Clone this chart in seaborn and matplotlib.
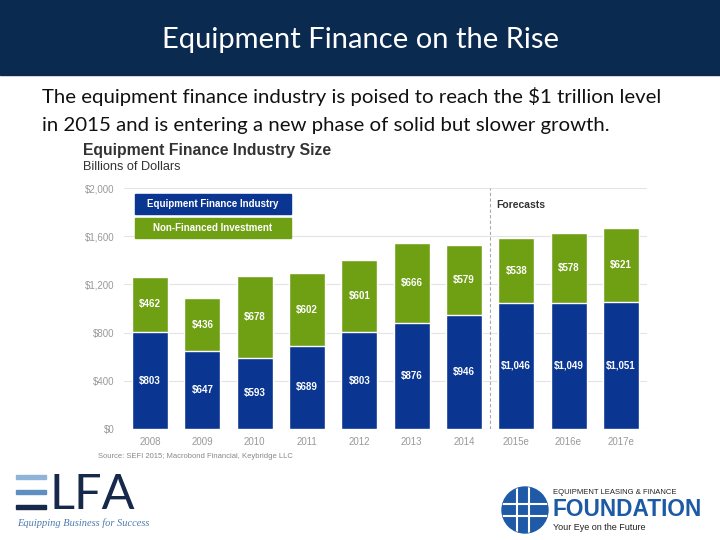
import matplotlib
matplotlib.use('Agg')
import matplotlib.pyplot as plt
import seaborn as sns
from matplotlib.patches import Rectangle, Circle

sns.set_style('white')
plt.rcParams['font.family'] = ['Liberation Sans', 'DejaVu Sans']

# data, billions of dollars
years = ['2008', '2009', '2010', '2011', '2012', '2013', '2014', '2015e', '2016e', '2017e']
financed = [803, 647, 593, 689, 803, 876, 946, 1046, 1049, 1051]
non_financed = [462, 436, 678, 602, 601, 666, 579, 538, 578, 621]
y_ticks = [0, 400, 800, 1200, 1600, 2000]

blue = '#0a3591'
green = '#6fa014'
navy = '#0b2a4f'

W, H = 720, 540
fig = plt.figure(figsize=(7.2, 5.4), dpi=100)


def fx(px):
    return px / W


def fy(py):
    return 1 - py / H


# header band
fig.patches.append(Rectangle((0, fy(75)), 1, 75 / H, transform=fig.transFigure,
                             color=navy, zorder=0))
fig.text(0.5, fy(40), 'Equipment Finance on the Rise', color='white', fontsize=21,
         family='Lato', ha='center', va='center')
fig.text(fx(42), fy(97), 'The equipment finance industry is poised to reach the $1 trillion level',
         fontsize=14.7, family='Lato', va='center', color='#111111')
fig.text(fx(42), fy(125), 'in 2015 and is entering a new phase of solid but slower growth.',
         fontsize=14.7, family='Lato', va='center', color='#111111')

fig.text(fx(83), fy(150), 'Equipment Finance Industry Size', fontsize=11.3,
         weight='bold', va='center', color='#333333')
fig.text(fx(83), fy(167), 'Billions of Dollars', fontsize=9.2, va='center', color='#333333')

# chart
ax = fig.add_axes([fx(124), fy(429), fx(647) - fx(124), (429 - 188) / H])
totals = [a + b for a, b in zip(financed, non_financed)]
sns.barplot(x=years, y=totals, color=green, width=0.69, saturation=1, ax=ax, zorder=2)
sns.barplot(x=years, y=financed, color=blue, width=0.69, saturation=1, ax=ax, zorder=3)

ax.set_ylim(0, 2000)
ax.set_xlim(-0.5, len(years) - 0.5)
ax.set_yticks(y_ticks)
ax.set_yticklabels([f'${v:,}' for v in y_ticks])
for v in y_ticks:
    ax.axhline(v, color='#e4e4e4', lw=0.8, zorder=1)
ax.tick_params(axis='both', length=0, labelsize=7, colors='#999999')
ax.tick_params(axis='y', pad=7)
ax.tick_params(axis='x', pad=6)
sns.despine(ax=ax, left=True, bottom=True)
ax.set_xlabel('')
ax.set_ylabel('')

for i, (a, b) in enumerate(zip(financed, non_financed)):
    ax.text(i, a / 2, f'${a:,}', color='white', weight='bold', fontsize=7,
            ha='center', va='center', zorder=4)
    ax.text(i, a + b / 2, f'${b:,}', color='white', weight='bold', fontsize=7,
            ha='center', va='center', zorder=4)

ax.axvline(6.5, color='#aaaaaa', ls='--', lw=0.8, dashes=(3, 2), zorder=1)
ax.text(6.62, 1860, 'Forecasts', fontsize=7.5, weight='bold', color='#333333', va='center')

# legend boxes
for top, col, label in [(194, blue, 'Equipment Finance Industry'),
                        (218, green, 'Non-Financed Investment')]:
    fig.patches.append(Rectangle((fx(135), fy(top + 20)), fx(156), 20 / H,
                                 transform=fig.transFigure, color=col, zorder=5))
    fig.text(fx(213), fy(top + 10), label, color='white', weight='bold', fontsize=7,
             ha='center', va='center', zorder=6)

fig.text(fx(98), fy(457), 'Source: SEFI 2015; Macrobond Financial, Keybridge LLC',
         fontsize=5.5, color='#888888', va='center')

# ELFA logo
for top, col in [(475, '#8fb4d8'), (490, '#5f8fc0'), (505, '#16294a')]:
    fig.patches.append(Rectangle((fx(16), fy(top + 4)), fx(30), 4 / H,
                                 transform=fig.transFigure, color=col, zorder=5))
fig.text(fx(50), fy(509), 'LFA', fontsize=35, color='#16294a', family='Lato',
         va='baseline')
fig.text(fx(17), fy(523), 'Equipping Business for Success', fontsize=7.5,
         family='Liberation Serif', style='italic', color='#4a7ab0', va='center')

# Foundation logo
globe = Circle((525, 540 - 510), 23, transform=None, color='#1f5aa8', zorder=5)
fig.patches.append(globe)
for dx in (-8, 4):
    l = plt.Line2D([fx(525 + dx)] * 2, [fy(487), fy(533)], transform=fig.transFigure,
                   color='white', lw=1.5, zorder=6)
    l.set_clip_path(globe)
    fig.lines.append(l)
for dy in (-6, 6):
    l = plt.Line2D([fx(502), fx(548)], [fy(510 + dy)] * 2, transform=fig.transFigure,
                   color='white', lw=1.5, zorder=6)
    l.set_clip_path(globe)
    fig.lines.append(l)
fig.text(fx(553), fy(493), 'EQUIPMENT LEASING & FINANCE', fontsize=5.5,
         color='#222222', va='center')
fig.text(fx(552), fy(510), 'FOUNDATION', fontsize=16.3, weight='bold',
         color='#1d5aa6', va='center')
fig.text(fx(553), fy(527), 'Your Eye on the Future', fontsize=6.5,
         color='#222222', va='center')

fig.savefig('out.png', dpi=100)
